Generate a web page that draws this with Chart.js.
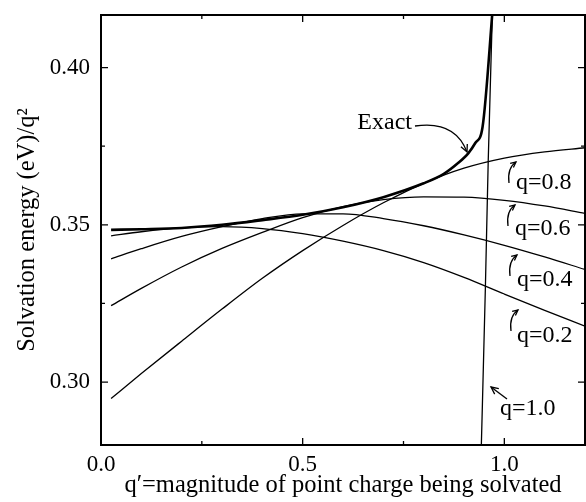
<!DOCTYPE html>
<html>
<head>
<meta charset="utf-8">
<script src="https://cdn.jsdelivr.net/npm/chart.js@4"></script>
<style>
  html, body { margin: 0; padding: 0; background: #fff; }
  canvas { display: block; }
</style>
</head>
<body>
<canvas id="chart" width="586" height="502"></canvas>
<script>
// ---------------- data ----------------
// common q' grid for the approximate curves
const qGrid = [0.025, 0.1, 0.2, 0.3, 0.4, 0.5, 0.6, 0.7, 0.8, 0.9, 1.0, 1.1, 1.2];

const q02 = [0.3465, 0.3478, 0.3490, 0.3494, 0.3488, 0.3472, 0.3448, 0.3418, 0.3380, 0.3333, 0.3280, 0.3228, 0.3178];
const q04 = [0.3392, 0.3424, 0.3463, 0.3494, 0.3520, 0.3535, 0.3535, 0.3520, 0.3497, 0.3468, 0.3435, 0.3398, 0.3358];
const q06 = [0.3243, 0.3298, 0.3366, 0.3425, 0.3476, 0.3523, 0.3558, 0.3580, 0.3589, 0.3588, 0.3578, 0.3560, 0.3536];
const q08 = [0.2948, 0.3027, 0.3130, 0.3232, 0.3330, 0.3418, 0.3498, 0.3570, 0.3632, 0.3680, 0.3712, 0.3732, 0.3745];

// exact curve
const exactX = [0.025, 0.1, 0.2, 0.3, 0.4, 0.5, 0.6, 0.7, 0.8, 0.85, 0.886, 0.911, 0.928, 0.946, 0.972];
const exactY = [0.3484, 0.3486, 0.3490, 0.3500, 0.3515, 0.3532, 0.3556, 0.3588, 0.3632, 0.3662, 0.3697, 0.3728, 0.3760, 0.3811, 0.4200];

// q=1.0 (almost vertical)
const q10X = [0.942, 0.953, 0.960, 0.971];
const q10Y = [0.275, 0.330, 0.370, 0.420];

// ticks
const xTickValues = [0, 0.25, 0.5, 0.75, 1.0];
const yTickValues = [0.30, 0.325, 0.35, 0.375, 0.40];
const xMajor = [0, 0.5, 1.0];
const yMajor = [0.30, 0.35, 0.40];

const FONT = "'Liberation Serif', 'Times New Roman', serif";

function pts(xs, ys) {
    return xs.map((x, i) => ({ x: x, y: ys[i] }));
}

function isMajor(list, v) {
    return list.some(m => Math.abs(m - v) < 1e-9);
}

function line(data, width) {
    return {
        data: data,
        borderColor: "#000",
        borderWidth: width,
        pointRadius: 0,
        fill: false,
        cubicInterpolationMode: "monotone"
    };
}

// ---------------- frame, inward ticks, labels ----------------
function arrowHead(ctx, x0, y0, x1, y1, size) {
    const a = Math.atan2(y1 - y0, x1 - x0);
    ctx.beginPath();
    ctx.moveTo(x1 - size * Math.cos(a - 0.45), y1 - size * Math.sin(a - 0.45));
    ctx.lineTo(x1, y1);
    ctx.lineTo(x1 - size * Math.cos(a + 0.45), y1 - size * Math.sin(a + 0.45));
    ctx.stroke();
}

const framePlugin = {
    id: "frame",
    afterDraw(chart) {
        const ctx = chart.ctx;
        const a = chart.chartArea;
        const xs = chart.scales.x;
        const ys = chart.scales.y;

        ctx.save();
        ctx.strokeStyle = "#000";
        ctx.lineWidth = 2;
        ctx.strokeRect(a.left, a.top, a.right - a.left, a.bottom - a.top);

        ctx.lineWidth = 1.3;
        ctx.beginPath();
        xTickValues.forEach(v => {
            const px = xs.getPixelForValue(v);
            const len = isMajor(xMajor, v) ? 7 : 4;
            ctx.moveTo(px, a.bottom); ctx.lineTo(px, a.bottom - len);
            ctx.moveTo(px, a.top); ctx.lineTo(px, a.top + len);
        });
        yTickValues.forEach(v => {
            const py = ys.getPixelForValue(v);
            const len = isMajor(yMajor, v) ? 7 : 4;
            ctx.moveTo(a.left, py); ctx.lineTo(a.left + len, py);
            ctx.moveTo(a.right, py); ctx.lineTo(a.right - len, py);
        });
        ctx.stroke();

        // curve labels
        ctx.fillStyle = "#000";
        ctx.font = "24px " + FONT;
        ctx.textBaseline = "alphabetic";

        ctx.textAlign = "right";
        ctx.fillText("Exact", 412, 129);
        ctx.textAlign = "left";
        ctx.fillText("q=0.8", 516, 189);
        ctx.fillText("q=0.6", 515, 235);
        ctx.fillText("q=0.4", 517, 286);
        ctx.fillText("q=0.2", 517, 342);
        ctx.fillText("q=1.0", 500, 415);

        ctx.lineWidth = 1.3;
        // Exact arrow
        ctx.beginPath();
        ctx.moveTo(415, 126);
        ctx.quadraticCurveTo(455, 120, 467, 152);
        ctx.stroke();
        arrowHead(ctx, 460, 136, 467, 152, 8);

        // little hooks under the q labels
        [[509, 183], [508, 226], [510, 276], [511, 331]].forEach(h => {
            const bx = h[0], by = h[1];
            ctx.beginPath();
            ctx.moveTo(bx, by);
            ctx.quadraticCurveTo(bx - 2, by - 15, bx + 7, by - 21);
            ctx.stroke();
            arrowHead(ctx, bx + 2, by - 17, bx + 7, by - 21, 6);
        });

        // q=1.0 arrow
        ctx.beginPath();
        ctx.moveTo(507, 399);
        ctx.lineTo(491, 387);
        ctx.stroke();
        arrowHead(ctx, 507, 399, 491, 387, 8);

        ctx.restore();
    }
};

// ---------------- chart ----------------
new Chart(document.getElementById("chart"), {
    type: "line",
    data: {
        datasets: [
            line(pts(qGrid, q02), 1.3),
            line(pts(qGrid, q04), 1.3),
            line(pts(qGrid, q06), 1.3),
            line(pts(qGrid, q08), 1.3),
            line(pts(q10X, q10Y), 1.3),
            line(pts(exactX, exactY), 2.6)
        ]
    },
    options: {
        responsive: false,
        animation: false,
        devicePixelRatio: 1,
        layout: { padding: { top: 15, right: 1, left: 0, bottom: 0 } },
        plugins: {
            legend: { display: false },
            tooltip: { enabled: false }
        },
        scales: {
            x: {
                type: "linear",
                min: 0,
                max: 1.2,
                afterBuildTicks: s => { s.ticks = xTickValues.map(v => ({ value: v })); },
                afterFit: s => {
                    s.height = 57;
                    s.paddingLeft = 0; s.paddingRight = 0;
                },
                grid: { display: false, drawTicks: false, tickLength: 0 },
                border: { display: false },
                ticks: {
                    padding: 6,
                    color: "#000",
                    font: { family: FONT, size: 23 },
                    maxRotation: 0,
                    autoSkip: false,
                    callback: v => isMajor(xMajor, v) ? v.toFixed(1) : ""
                },
                title: {
                    display: true,
                    text: "q\u2032=magnitude of point charge being solvated",
                    color: "#000",
                    font: { family: FONT, size: 24.5 },
                    padding: { top: 0, bottom: 2 }
                }
            },
            y: {
                type: "linear",
                min: 0.28,
                max: 0.4167,
                afterBuildTicks: s => { s.ticks = yTickValues.map(v => ({ value: v })); },
                afterFit: s => {
                    s.width = 101;
                    s.paddingTop = 0; s.paddingBottom = 0;
                },
                grid: { display: false, drawTicks: false, tickLength: 0 },
                border: { display: false },
                ticks: {
                    padding: 11,
                    color: "#000",
                    font: { family: FONT, size: 23 },
                    autoSkip: false,
                    callback: v => isMajor(yMajor, v) ? v.toFixed(2) : ""
                },
                title: {
                    display: true,
                    text: "Solvation energy (eV)/q\u00B2",
                    color: "#000",
                    font: { family: FONT, size: 24.5 },
                    padding: { top: 13, bottom: 0 }
                }
            }
        }
    },
    plugins: [framePlugin]
});
</script>
</body>
</html>
